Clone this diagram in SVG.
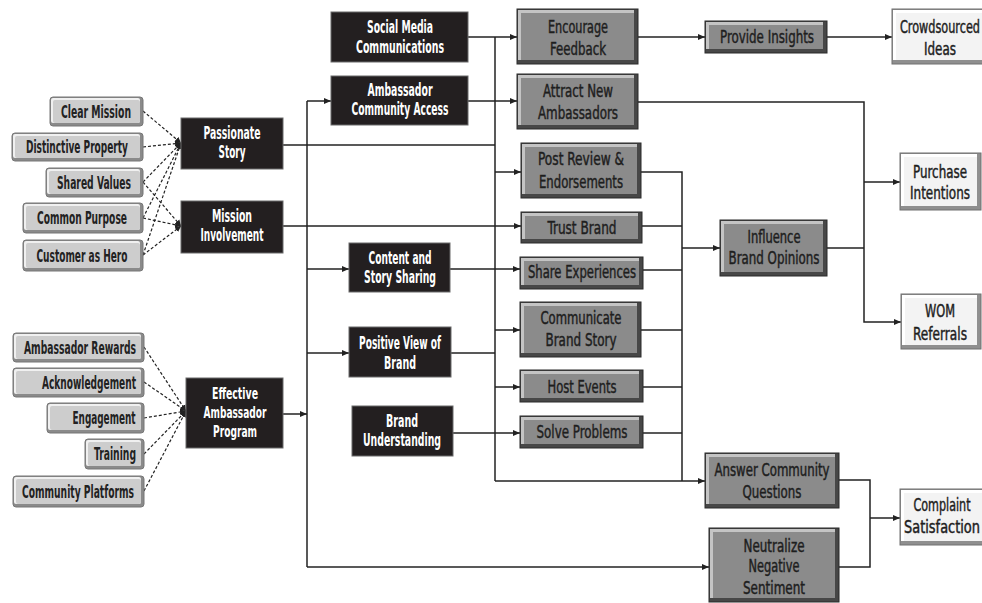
<svg xmlns="http://www.w3.org/2000/svg" width="982" height="603" viewBox="0 0 982 603">
<defs>
<marker id="ah" markerUnits="userSpaceOnUse" markerWidth="8" markerHeight="8" refX="7" refY="4" orient="auto">
<path d="M0,1 L7,4 L0,7 Z" fill="#222"/>
</marker>
<marker id="ahs" markerUnits="userSpaceOnUse" markerWidth="7" markerHeight="7" refX="6" refY="3.5" orient="auto">
<path d="M0,0.5 L6,3.5 L0,6.5 Z" fill="#222"/>
</marker>
</defs>
<style>
text{font-family:"DejaVu Sans Condensed","DejaVu Sans",sans-serif;font-size:17px;text-anchor:middle}
.s18{font-size:18px}
.s16{font-size:16px}
.tw{fill:#fff;font-weight:bold}
.tl{fill:#222;font-weight:bold}
.td{fill:#1e1e1e;stroke:#1e1e1e;stroke-width:0.45}
.bk{fill:#231f20;stroke:#6a6a6a;stroke-width:1}
.lo{fill:#8a8a8a;stroke:#777;stroke-width:1}
.lh{fill:#f0f0f0}
.lf{fill:#cdcdcd}
.mo{fill:#474747;stroke:#2b2b2b;stroke-width:1}
.mh{fill:#c4c4c4}
.mf{fill:#8b8b8b}
.wo{fill:#8f8f8f;stroke:#707070;stroke-width:1}
.wh{fill:#ffffff}
.wf{fill:#f3f3f3}
.c{fill:none;stroke:#222;stroke-width:1.5}
.ca{fill:none;stroke:#222;stroke-width:1.5;marker-end:url(#ah)}
.d{fill:none;stroke:#222;stroke-width:1.2;stroke-dasharray:3,2;marker-end:url(#ahs)}
</style>
<rect width="982" height="603" fill="#fff"/>

<g id="connectors">
<path class="d" d="M143,111 L181,143"/>
<path class="d" d="M143,147 L181,143"/>
<path class="d" d="M143,182 L181,143"/>
<path class="d" d="M143,218 L181,143"/>
<path class="d" d="M143,255 L181,143"/>
<path class="d" d="M143,182 L181,226"/>
<path class="d" d="M143,218 L181,226"/>
<path class="d" d="M143,255 L181,226"/>
<path class="d" d="M144,347 L186,411"/>
<path class="d" d="M144,382 L186,411"/>
<path class="d" d="M144,418 L186,411"/>
<path class="d" d="M144,454 L186,411"/>
<path class="d" d="M144,491 L186,411"/>

<path class="ca" d="M283,414 H307"/>
<path class="c" d="M307,101 V567"/>
<path class="ca" d="M307,101 H331"/>
<path class="ca" d="M307,269 H349"/>
<path class="ca" d="M307,353 H349"/>
<path class="ca" d="M307,567 H709"/>
<path class="c" d="M283,145 H495"/>
<path class="ca" d="M283,226 H521"/>
<path class="ca" d="M468,37 H517"/>
<path class="ca" d="M468,101 H517"/>
<path class="ca" d="M450,269 H520"/>
<path class="c" d="M451,353 H495"/>
<path class="ca" d="M453,433 H520"/>
<path class="c" d="M495,37 V481"/>
<path class="ca" d="M495,481 H705"/>
<path class="ca" d="M495,172 H521"/>
<path class="ca" d="M495,330 H520"/>
<path class="ca" d="M495,387 H520"/>
<path class="ca" d="M638,37 H705"/>
<path class="ca" d="M827,37 H892"/>
<path class="ca" d="M638,102 H864 V322 H901"/>
<path class="ca" d="M864,182 H900"/>
<path class="c" d="M827,248 H864"/>
<path class="c" d="M641,172 H682 V481"/>
<path class="c" d="M642,226 H682"/>
<path class="c" d="M643,270 H682"/>
<path class="c" d="M641,330 H682"/>
<path class="c" d="M643,387 H682"/>
<path class="c" d="M643,433 H682"/>
<path class="ca" d="M682,248 H720"/>
<path class="c" d="M839,480 H870 V567 H839"/>
<path class="ca" d="M870,518 H900"/>
</g>

<g id="n-clear-mission"><rect class="lo" x="50" y="97" width="93" height="29" rx="3"/><rect class="lh" x="51" y="98" width="89" height="25" rx="2"/><rect class="lf" x="53" y="100" width="87" height="23" rx="2"/><text class="tl s18" x="96" y="118" textLength="70" lengthAdjust="spacingAndGlyphs">Clear Mission</text></g>
<g id="n-distinctive-property"><rect class="lo" x="12" y="133" width="131" height="28" rx="3"/><rect class="lh" x="13" y="134" width="127" height="24" rx="2"/><rect class="lf" x="15" y="136" width="125" height="22" rx="2"/><text class="tl s18" x="77" y="153" textLength="102" lengthAdjust="spacingAndGlyphs">Distinctive Property</text></g>
<g id="n-shared-values"><rect class="lo" x="46" y="168" width="97" height="29" rx="3"/><rect class="lh" x="47" y="169" width="93" height="25" rx="2"/><rect class="lf" x="49" y="171" width="91" height="23" rx="2"/><text class="tl s18" x="94" y="189" textLength="74" lengthAdjust="spacingAndGlyphs">Shared Values</text></g>
<g id="n-common-purpose"><rect class="lo" x="23" y="203" width="120" height="30" rx="3"/><rect class="lh" x="24" y="204" width="116" height="26" rx="2"/><rect class="lf" x="26" y="206" width="114" height="24" rx="2"/><text class="tl s18" x="82" y="224" textLength="90" lengthAdjust="spacingAndGlyphs">Common Purpose</text></g>
<g id="n-customer-as-hero"><rect class="lo" x="23" y="240" width="120" height="31" rx="3"/><rect class="lh" x="24" y="241" width="116" height="27" rx="2"/><rect class="lf" x="26" y="243" width="114" height="25" rx="2"/><text class="tl s18" x="82" y="262" textLength="91" lengthAdjust="spacingAndGlyphs">Customer as Hero</text></g>

<g id="n-ambassador-rewards"><rect class="lo" x="13" y="333" width="131" height="29" rx="3"/><rect class="lh" x="14" y="334" width="127" height="25" rx="2"/><rect class="lf" x="16" y="336" width="125" height="23" rx="2"/><text class="tl s18" x="80" y="354" textLength="112" lengthAdjust="spacingAndGlyphs">Ambassador Rewards</text></g>
<g id="n-acknowledgement"><rect class="lo" x="13" y="368" width="131" height="29" rx="3"/><rect class="lh" x="14" y="369" width="127" height="25" rx="2"/><rect class="lf" x="16" y="371" width="125" height="23" rx="2"/><text class="tl s18" x="89" y="389" textLength="94" lengthAdjust="spacingAndGlyphs">Acknowledgement</text></g>
<g id="n-engagement"><rect class="lo" x="47" y="403" width="97" height="30" rx="3"/><rect class="lh" x="48" y="404" width="93" height="26" rx="2"/><rect class="lf" x="50" y="406" width="91" height="24" rx="2"/><text class="tl s18" x="104" y="424" textLength="63" lengthAdjust="spacingAndGlyphs">Engagement</text></g>
<g id="n-training"><rect class="lo" x="85" y="439" width="59" height="30" rx="3"/><rect class="lh" x="86" y="440" width="55" height="26" rx="2"/><rect class="lf" x="88" y="442" width="53" height="24" rx="2"/><text class="tl s18" x="115" y="460" textLength="42" lengthAdjust="spacingAndGlyphs">Training</text></g>
<g id="n-community-platforms"><rect class="lo" x="13" y="476" width="131" height="31" rx="3"/><rect class="lh" x="14" y="477" width="127" height="27" rx="2"/><rect class="lf" x="16" y="479" width="125" height="25" rx="2"/><text class="tl s18" x="78" y="498" textLength="112" lengthAdjust="spacingAndGlyphs">Community Platforms</text></g>

<g id="n-passionate-story"><rect class="bk" x="181" y="118" width="102" height="51"/><text class="tw" x="232" y="139" textLength="57" lengthAdjust="spacingAndGlyphs">Passionate</text><text class="tw" x="232" y="158" textLength="27" lengthAdjust="spacingAndGlyphs">Story</text></g>
<g id="n-mission-involvement"><rect class="bk" x="181" y="201" width="102" height="52"/><text class="tw" x="232" y="222" textLength="40" lengthAdjust="spacingAndGlyphs">Mission</text><text class="tw" x="232" y="241" textLength="63" lengthAdjust="spacingAndGlyphs">Involvement</text></g>
<g id="n-effective-ambassador-program"><rect class="bk" x="186" y="378" width="97" height="70"/><text class="tw s16" x="235" y="399" textLength="46" lengthAdjust="spacingAndGlyphs">Effective</text><text class="tw s16" x="235" y="418" textLength="63" lengthAdjust="spacingAndGlyphs">Ambassador</text><text class="tw s16" x="235" y="437" textLength="44" lengthAdjust="spacingAndGlyphs">Program</text></g>

<g id="n-social-media"><rect class="bk" x="331" y="12" width="137" height="50"/><text class="tw" x="400" y="33" textLength="66" lengthAdjust="spacingAndGlyphs">Social Media</text><text class="tw" x="400" y="53" textLength="88" lengthAdjust="spacingAndGlyphs">Communications</text></g>
<g id="n-ambassador-community-access"><rect class="bk" x="331" y="76" width="137" height="49"/><text class="tw" x="400" y="96" textLength="65" lengthAdjust="spacingAndGlyphs">Ambassador</text><text class="tw" x="400" y="115" textLength="97" lengthAdjust="spacingAndGlyphs">Community Access</text></g>
<g id="n-content-story-sharing"><rect class="bk" x="349" y="243" width="101" height="49"/><text class="tw" x="400" y="264" textLength="63" lengthAdjust="spacingAndGlyphs">Content and</text><text class="tw" x="400" y="283" textLength="72" lengthAdjust="spacingAndGlyphs">Story Sharing</text></g>
<g id="n-positive-view"><rect class="bk" x="349" y="327" width="102" height="50"/><text class="tw" x="400" y="349" textLength="82" lengthAdjust="spacingAndGlyphs">Positive View of</text><text class="tw" x="400" y="369" textLength="32" lengthAdjust="spacingAndGlyphs">Brand</text></g>
<g id="n-brand-understanding"><rect class="bk" x="352" y="406" width="101" height="50"/><text class="tw" x="402" y="427" textLength="32" lengthAdjust="spacingAndGlyphs">Brand</text><text class="tw" x="402" y="446" textLength="78" lengthAdjust="spacingAndGlyphs">Understanding</text></g>

<g id="n-encourage-feedback"><rect class="mo" x="517" y="9" width="121" height="55"/><rect class="mh" x="518" y="10" width="116" height="50"/><rect class="mf" x="521" y="13" width="113" height="47"/><text class="td" x="578" y="33" textLength="60" lengthAdjust="spacingAndGlyphs">Encourage</text><text class="td" x="578" y="55" textLength="56" lengthAdjust="spacingAndGlyphs">Feedback</text></g>
<g id="n-attract-new-ambassadors"><rect class="mo" x="517" y="74" width="121" height="55"/><rect class="mh" x="518" y="75" width="116" height="50"/><rect class="mf" x="521" y="78" width="113" height="47"/><text class="td" x="578" y="97" textLength="70" lengthAdjust="spacingAndGlyphs">Attract New</text><text class="td" x="578" y="119" textLength="80" lengthAdjust="spacingAndGlyphs">Ambassadors</text></g>
<g id="n-post-review"><rect class="mo" x="521" y="143" width="120" height="55"/><rect class="mh" x="522" y="144" width="115" height="50"/><rect class="mf" x="525" y="147" width="112" height="47"/><text class="td" x="581" y="165" textLength="86" lengthAdjust="spacingAndGlyphs">Post Review  &amp;</text><text class="td" x="581" y="188" textLength="84" lengthAdjust="spacingAndGlyphs">Endorsements</text></g>
<g id="n-trust-brand"><rect class="mo" x="521" y="212" width="121" height="31"/><rect class="mh" x="522" y="213" width="116" height="26"/><rect class="mf" x="525" y="216" width="113" height="23"/><text class="td s18" x="582" y="234" textLength="69" lengthAdjust="spacingAndGlyphs">Trust Brand</text></g>
<g id="n-share-experiences"><rect class="mo" x="520" y="257" width="123" height="32"/><rect class="mh" x="521" y="258" width="118" height="27"/><rect class="mf" x="524" y="261" width="115" height="24"/><text class="td s18" x="582" y="278" textLength="108" lengthAdjust="spacingAndGlyphs">Share Experiences</text></g>
<g id="n-communicate-brand-story"><rect class="mo" x="520" y="302" width="121" height="55"/><rect class="mh" x="521" y="303" width="116" height="50"/><rect class="mf" x="524" y="306" width="113" height="47"/><text class="td" x="581" y="324" textLength="81" lengthAdjust="spacingAndGlyphs">Communicate</text><text class="td" x="581" y="346" textLength="71" lengthAdjust="spacingAndGlyphs">Brand Story</text></g>
<g id="n-host-events"><rect class="mo" x="520" y="370" width="123" height="32"/><rect class="mh" x="521" y="371" width="118" height="27"/><rect class="mf" x="524" y="374" width="115" height="24"/><text class="td s18" x="582" y="393" textLength="69" lengthAdjust="spacingAndGlyphs">Host Events</text></g>
<g id="n-solve-problems"><rect class="mo" x="520" y="416" width="123" height="32"/><rect class="mh" x="521" y="417" width="118" height="27"/><rect class="mf" x="524" y="420" width="115" height="24"/><text class="td s18" x="582" y="438" textLength="91" lengthAdjust="spacingAndGlyphs">Solve Problems</text></g>

<g id="n-provide-insights"><rect class="mo" x="705" y="21" width="122" height="32"/><rect class="mh" x="706" y="22" width="117" height="27"/><rect class="mf" x="709" y="25" width="114" height="24"/><text class="td s18" x="767" y="43" textLength="94" lengthAdjust="spacingAndGlyphs">Provide Insights</text></g>
<g id="n-influence-brand-opinions"><rect class="mo" x="720" y="220" width="107" height="56"/><rect class="mh" x="721" y="221" width="102" height="51"/><rect class="mf" x="724" y="224" width="99" height="48"/><text class="td" x="774" y="243" textLength="53" lengthAdjust="spacingAndGlyphs">Influence</text><text class="td" x="774" y="264" textLength="91" lengthAdjust="spacingAndGlyphs">Brand Opinions</text></g>
<g id="n-answer-community-questions"><rect class="mo" x="705" y="453" width="134" height="55"/><rect class="mh" x="706" y="454" width="129" height="50"/><rect class="mf" x="709" y="457" width="126" height="47"/><text class="td" x="772" y="476" textLength="115" lengthAdjust="spacingAndGlyphs">Answer Community</text><text class="td" x="772" y="498" textLength="59" lengthAdjust="spacingAndGlyphs">Questions</text></g>
<g id="n-neutralize-negative-sentiment"><rect class="mo" x="709" y="528" width="130" height="74"/><rect class="mh" x="710" y="529" width="125" height="69"/><rect class="mf" x="713" y="532" width="122" height="66"/><text class="td" x="774" y="552" textLength="61" lengthAdjust="spacingAndGlyphs">Neutralize</text><text class="td" x="774" y="572" textLength="51" lengthAdjust="spacingAndGlyphs">Negative</text><text class="td" x="774" y="594" textLength="62" lengthAdjust="spacingAndGlyphs">Sentiment</text></g>

<g id="n-crowdsourced-ideas"><rect class="wo" x="892" y="9" width="96" height="55"/><rect class="wh" x="893" y="10" width="91" height="50"/><rect class="wf" x="896" y="13" width="88" height="47"/><text class="td" x="940" y="33" textLength="80" lengthAdjust="spacingAndGlyphs">Crowdsourced</text><text class="td" x="940" y="55" textLength="32" lengthAdjust="spacingAndGlyphs">Ideas</text></g>
<g id="n-purchase-intentions"><rect class="wo" x="900" y="153" width="81" height="57"/><rect class="wh" x="901" y="154" width="76" height="52"/><rect class="wf" x="904" y="157" width="73" height="49"/><text class="td" x="940" y="178" textLength="54" lengthAdjust="spacingAndGlyphs">Purchase</text><text class="td" x="940" y="199" textLength="60" lengthAdjust="spacingAndGlyphs">Intentions</text></g>
<g id="n-wom-referrals"><rect class="wo" x="901" y="294" width="80" height="55"/><rect class="wh" x="902" y="295" width="75" height="50"/><rect class="wf" x="905" y="298" width="72" height="47"/><text class="td" x="940" y="317" textLength="30" lengthAdjust="spacingAndGlyphs">WOM</text><text class="td" x="940" y="340" textLength="54" lengthAdjust="spacingAndGlyphs">Referrals</text></g>
<g id="n-complaint-satisfaction"><rect class="wo" x="900" y="489" width="88" height="56"/><rect class="wh" x="901" y="490" width="83" height="51"/><rect class="wf" x="904" y="493" width="80" height="48"/><text class="td" x="942" y="511" textLength="57" lengthAdjust="spacingAndGlyphs">Complaint</text><text class="td" x="942" y="533" textLength="76" lengthAdjust="spacingAndGlyphs">Satisfaction</text></g>
</svg>
